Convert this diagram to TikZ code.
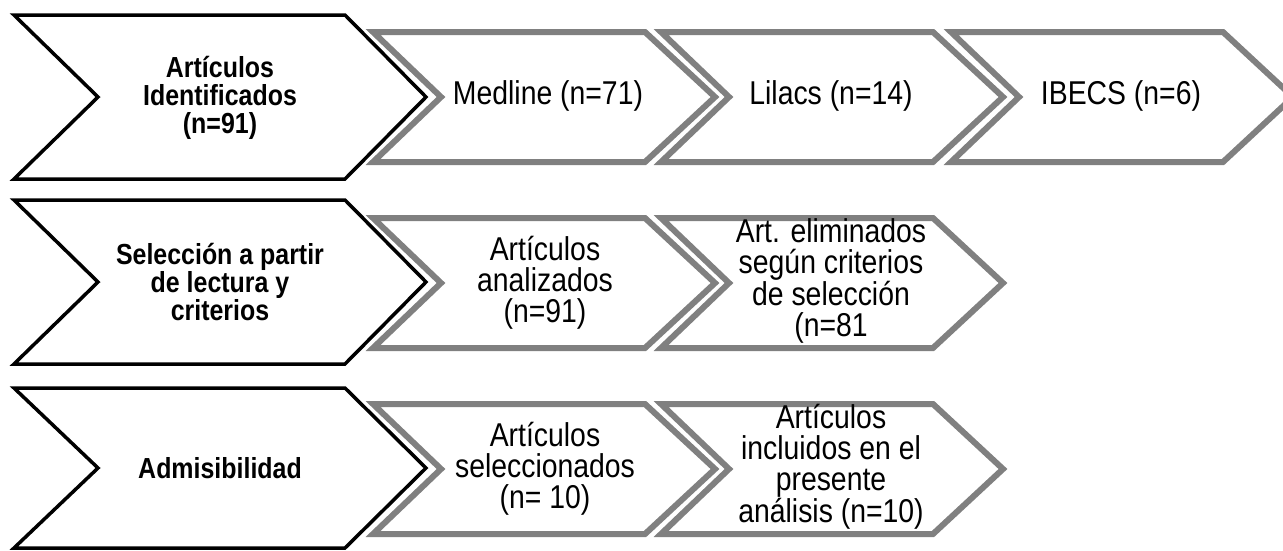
\documentclass[tikz,border=0pt]{standalone}
\usepackage{fontspec}
\setmainfont{Liberation Sans}[FakeStretch=0.86]
\definecolor{chevgray}{RGB}{128,128,128}
\tikzset{
  stage/.style={draw=black, line width=3.5pt, fill=white, line join=miter},
  source/.style={draw=chevgray, line width=6pt, fill=white, line join=miter},
  stagetext/.style={align=center, font=\fontsize{29}{28}\selectfont\bfseries},
  sourcetext/.style={align=center, font=\fontsize{33}{31}\selectfont},
}
\begin{document}
\begin{tikzpicture}[x=1pt,y=-1pt]
\useasboundingbox (0,0) rectangle (1283,550);

% fila 1
\draw[source] (373,32) -- (645,32) -- (715,97) -- (645,162) -- (373,162) -- (441,97) -- cycle;
\draw[source] (661,32) -- (933,32) -- (1003,97) -- (933,162) -- (661,162) -- (729,97) -- cycle;
\draw[source] (951,32) -- (1223,32) -- (1293,97) -- (1223,162) -- (951,162) -- (1019,97) -- cycle;
\draw[stage] (14,15) -- (345,15) -- (426,97) -- (345,179) -- (14,179) -- (98,97) -- cycle;

\node[stagetext] (ident) at (220,98) {Artículos\\Identificados\\(n=91)};
\node[sourcetext] (medline) at (548,96) {Medline (n=71)};
\node[sourcetext] (lilacs) at (831,96) {Lilacs (n=14)};
\node[sourcetext] (ibecs) at (1121,96) {IBECS (n=6)};

% fila 2
\draw[source] (373,218) -- (645,218) -- (715,283) -- (645,348) -- (373,348) -- (441,283) -- cycle;
\draw[source] (661,218) -- (933,218) -- (1003,283) -- (933,348) -- (661,348) -- (729,283) -- cycle;
\draw[stage] (14,200) -- (345,200) -- (426,282) -- (345,364) -- (14,364) -- (98,282) -- cycle;

\node[stagetext] (selec) at (220,282) {Selección a partir\\de lectura y\\criterios};
\node[sourcetext] (analiz) at (545,283) {Artículos\\analizados\\(n=91)};
\node[sourcetext] (elimin) at (831,281) {Art. eliminados\\según criterios\\de selección\\(n=81};

% fila 3
\draw[source] (373,404) -- (645,404) -- (715,469) -- (645,534) -- (373,534) -- (441,469) -- cycle;
\draw[source] (661,404) -- (933,404) -- (1003,469) -- (933,534) -- (661,534) -- (729,469) -- cycle;
\draw[stage] (14,388) -- (345,388) -- (426,468) -- (345,548) -- (14,548) -- (98,468) -- cycle;

\node[stagetext] (admis) at (220,468) {Admisibilidad};
\node[sourcetext] (selecc) at (545,469) {Artículos\\seleccionados\\(n= 10)};
\node[sourcetext] (inclu) at (831,467) {Artículos\\incluidos en el\\presente\\análisis (n=10)};
\end{tikzpicture}
\end{document}
